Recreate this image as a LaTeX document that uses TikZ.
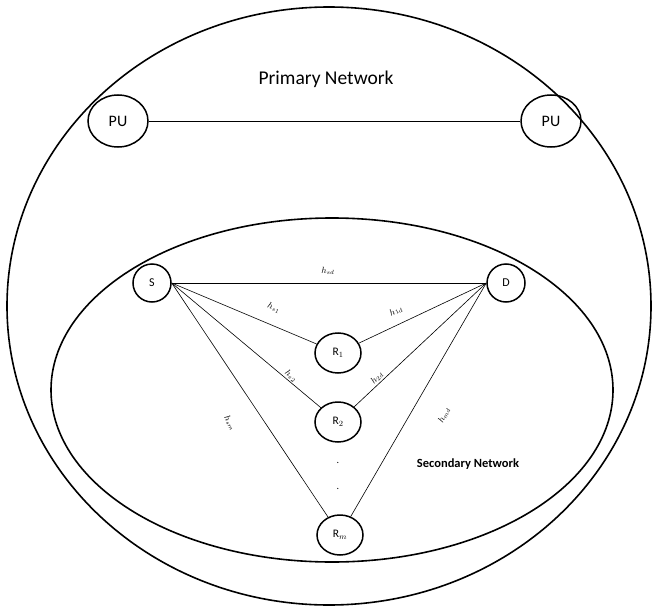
\documentclass[tikz,border=0pt]{standalone}
\usepackage{fontspec}
\setmainfont{Carlito}
\usetikzlibrary{shapes.geometric}
\begin{document}
\begin{tikzpicture}[x=1pt,y=-1pt,
  net/.style={draw,line width=1.6pt},
  nd/.style={draw,ellipse,line width=1.5pt,inner sep=0pt,font=\fontsize{11.5}{13}\selectfont},
  pu/.style={nd,minimum width=60pt,minimum height=52pt,font=\fontsize{16}{18}\selectfont},
  sd/.style={nd,minimum width=38pt,minimum height=38pt,font=\fontsize{12}{14}\selectfont},
  rr/.style={nd,minimum width=46pt,minimum height=40pt},
  ln/.style={draw,line width=0.6pt},
  lab/.style={font=\fontsize{9}{10}\selectfont,inner sep=1pt}
]
\useasboundingbox (0,0) rectangle (656,610);
% outer and inner networks
\draw[net] (329,306) ellipse [x radius=322, y radius=299];
\draw[net] (332,390) ellipse [x radius=281, y radius=172];
\node[font=\fontsize{19.5}{22}\selectfont] (pn) at (326,79) {Primary Network};
\node[font=\bfseries\fontsize{12.5}{14}\selectfont] (sn) at (468,464) {Secondary Network};
% primary users
\node[pu] (pu1) at (118,121) {PU};
\node[pu] (pu2) at (551,121) {PU};
\draw[ln] (pu1) -- (pu2);
% secondary nodes
\node[sd] (S) at (152,283) {S};
\node[sd] (D) at (506,283) {D};
\node[rr] (R1) at (338,353) {R$_1$};
\node[rr] (R2) at (338,422) {R$_2$};
\node[rr] (Rm) at (340,535) {R$_m$};
\node (d1) at (338,463) {.};
\node (d2) at (338,489) {.};
% links
\draw[ln] (S.east) -- (D.west);
\draw[ln] (S.east) -- (R1);
\draw[ln] (S.east) -- (R2);
\draw[ln] (S.east) -- (Rm);
\draw[ln] (R1) -- (D.west);
\draw[ln] (R2) -- (D.west);
\draw[ln] (Rm) -- (D.west);
% channel labels
\node[lab] (hsd) at (328,271) {$h_{sd}$};
\node[lab,rotate=-23] (hs1) at (274,308) {$h_{s1}$};
\node[lab,rotate=26] (h1d) at (396,311) {$h_{1d}$};
\node[lab,rotate=-42] (hs2) at (291,376) {$h_{s2}$};
\node[lab,rotate=46] (h2d) at (377,378) {$h_{2d}$};
\node[lab,rotate=-60] (hsm) at (230,423) {$h_{sm}$};
\node[lab,rotate=64] (hmd) at (444,415) {$h_{md}$};
\end{tikzpicture}
\end{document}
